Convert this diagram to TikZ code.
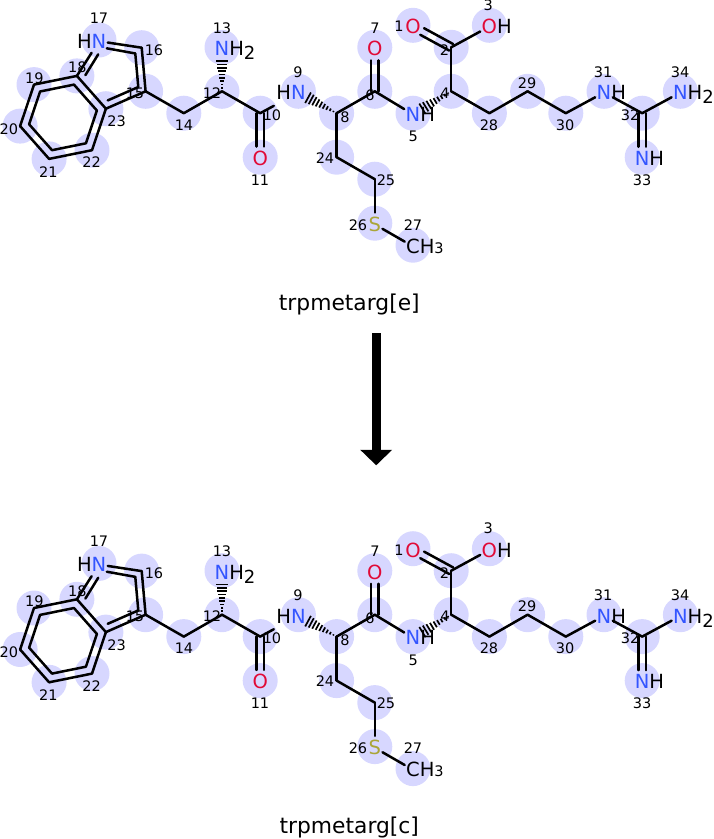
\documentclass[tikz,border=0pt]{standalone}
\usepackage{fontspec}
\setmainfont{DejaVu Sans}
\usetikzlibrary{calc,arrows.meta}
\definecolor{hlc}{RGB}{215,215,255}
\definecolor{nblue}{RGB}{51,85,255}
\definecolor{ored}{RGB}{225,10,55}
\definecolor{syel}{RGB}{170,165,55}
\tikzset{
  bond/.style={line width=2.5pt, line cap=round, line join=round, draw=black},
  hashline/.style={line width=1.7pt, draw=black},
  atomlbl/.style={rectangle, inner xsep=1.5pt, inner ysep=4.5pt, outer sep=0pt, font=\fontsize{19.5}{20}\selectfont, yshift=-1.2pt},
  natom/.style={atomlbl, text=nblue},
  oatom/.style={atomlbl, text=ored},
  satom/.style={atomlbl, text=syel},
  catomlbl/.style={atomlbl, text=black},
  hlbl/.style={inner sep=0pt, outer sep=0pt, font=\fontsize{19.5}{20}\selectfont, text=black},
  idx/.style={inner sep=0pt, font=\fontsize{14.5}{14.5}\selectfont, text=black},
  captionlbl/.style={inner sep=0pt, font=\fontsize{21.8}{22}\selectfont, anchor=base},
}
\newcommand\hsubtwo[1]{\raisebox{-4pt}{\fontsize{18}{18}\selectfont #1}}
% hashed wedge: #1 narrow end node, #2 wide end node, #3 stop distance from #2, #4 half width
\newcommand\hashwedge[4]{%
  \coordinate (hwe) at ($(#2)!#3!(#1)$);
  \foreach \i in {1,...,9}{%
    \coordinate (hwp) at ($(#1)!{\i/9}!(hwe)$);
    \draw[hashline] ($(hwp)!{\i/9*#4}!90:(#1)$) -- ($(hwp)!{\i/9*#4}!-90:(#1)$);
  }}
\newcommand\drawmolecule[2]{%
  \foreach \n/\x/\y in {1/413/25.3, 2/451.2/47.3, 3/489.4/25.3, 4/451.2/91.3,
     5/413/113.2, 6/374.8/91.3, 7/374.8/47.3, 8/336.6/113.2, 9/298.4/91.3,
     10/260.2/113.2, 11/260.2/157.2, 12/222/91.3, 13/222/47.3, 14/183.8/113.2,
     15/145.6/91.3, 16/141.7/47.7, 17/99/40, 18/76.9/75.9, 19/34.0/84.6,
     20/20.1/126.1, 21/49.1/158.9, 22/92.0/150.2, 23/105.9/108.7,
     24/336.6/157.2, 25/374.8/179.2, 26/374.8/223.2, 27/413/245.2,
     28/489.4/113.2, 29/527.6/91.3, 30/565.8/113.2, 31/604/91.3,
     32/642.2/113.2, 33/642.2/157.2, 34/680.4/91.3}
     {\coordinate (#1p\n) at (\x,\y);}
  \coordinate (#1bc) at (63,117.4);
  \coordinate (#1pc) at (113.8,72.7);
  % highlight circles
  \foreach \n in {1,...,34} {\fill[hlc] (#1p\n) circle[radius=17.5pt];}
  % carbon atoms
  \foreach \n in {2,4,6,8,10,12,14,15,16,18,19,20,21,22,23,24,25,28,29,30,32}
     {\coordinate (#1a\n) at (#1p\n);}
  % hetero atoms
  \node[oatom] (#1a1) at (#1p1) {O};
  \node[oatom] (#1a3) at (#1p3) {O};
  \node[hlbl, anchor=base west] (#1h3) at ([xshift=-1.5pt]#1a3.base east) {H};
  \node[natom] (#1a5) at (#1p5) {N};
  \node[hlbl, anchor=base west] (#1h5) at ([xshift=-1.5pt]#1a5.base east) {H};
  \node[oatom] (#1a7) at (#1p7) {O};
  \node[natom] (#1a9) at (#1p9) {N};
  \node[hlbl, anchor=base east] (#1h9) at ([xshift=1.5pt]#1a9.base west) {H};
  \node[oatom] (#1a11) at (#1p11) {O};
  \node[natom] (#1a13) at (#1p13) {N};
  \node[hlbl, anchor=base west] (#1h13) at ([xshift=-1.5pt]#1a13.base east) {H\hsubtwo{2}};
  \node[natom] (#1a17) at (#1p17) {N};
  \node[hlbl, anchor=base east] (#1h17) at ([xshift=1.5pt]#1a17.base west) {H};
  \node[satom] (#1a26) at (#1p26) {S};
  \node[catomlbl] (#1a27) at (#1p27) {C};
  \node[hlbl, anchor=base west] (#1h27) at ([xshift=-1.5pt]#1a27.base east) {H{\fontsize{14.5}{14.5}\selectfont 3}};
  \node[natom] (#1a31) at (#1p31) {N};
  \node[hlbl, anchor=base west] (#1h31) at ([xshift=-1.5pt]#1a31.base east) {H};
  \node[natom] (#1a33) at (#1p33) {N};
  \node[hlbl, anchor=base west] (#1h33) at ([xshift=-1.5pt]#1a33.base east) {H};
  \node[natom] (#1a34) at (#1p34) {N};
  \node[hlbl, anchor=base west] (#1h34) at ([xshift=-1.5pt]#1a34.base east) {H\hsubtwo{2}};
  % single bonds
  \draw[bond] (#1a12) -- (#1a14);
  \draw[bond] (#1a14) -- (#1a15);
  \draw[bond] (#1a12) -- (#1a10);
  \draw[bond, shorten >=18pt] (#1a10) -- (#1a9);
  \draw[bond] (#1a8) -- (#1a6);
  \draw[bond] (#1a6) -- (#1a5);
  \draw[bond] (#1a4) -- (#1a2);
  \draw[bond] (#1a2) -- (#1a3);
  \draw[bond] (#1a4) -- (#1a28);
  \draw[bond] (#1a28) -- (#1a29);
  \draw[bond] (#1a29) -- (#1a30);
  \draw[bond] (#1a30) -- (#1a31);
  \draw[bond] (#1a31) -- (#1a32);
  \draw[bond] (#1a32) -- (#1a34);
  \draw[bond] (#1a8) -- (#1a24);
  \draw[bond] (#1a24) -- (#1a25);
  \draw[bond] (#1a25) -- (#1a26);
  \draw[bond] (#1a26) -- (#1a27);
  % double bonds
  \foreach \s in {3.8pt,-3.8pt} {
    \draw[bond, transform canvas={xshift=\s}] (#1a10) -- (#1a11);
    \draw[bond, transform canvas={xshift=\s}] (#1a6) -- (#1a7);
    \draw[bond, transform canvas={xshift=\s}] (#1a32) -- (#1a33);
  }
  \draw[bond, transform canvas={xshift=1.9pt,yshift=3.29pt}] (#1a2) -- (#1a1);
  \draw[bond, transform canvas={xshift=-1.9pt,yshift=-3.29pt}] (#1a2) -- (#1a1);
  % rings (outer)
  \draw[bond] (#1a15) -- (#1a16);
  \draw[bond] (#1a16) -- (#1a17);
  \draw[bond] (#1a17) -- (#1a18);
  \draw[bond] (#1a18) -- (#1a23);
  \draw[bond] (#1a23) -- (#1a15);
  \draw[bond] (#1a18) -- (#1a19);
  \draw[bond] (#1a19) -- (#1a20);
  \draw[bond] (#1a20) -- (#1a21);
  \draw[bond] (#1a21) -- (#1a22);
  \draw[bond] (#1a22) -- (#1a23);
  % rings (inner)
  \draw[bond] ($(#1bc)!0.79!(#1a18)$) -- ($(#1bc)!0.79!(#1a19)$) -- ($(#1bc)!0.79!(#1a20)$)
     -- ($(#1bc)!0.79!(#1a21)$) -- ($(#1bc)!0.79!(#1a22)$) -- ($(#1bc)!0.79!(#1a23)$) -- cycle;
  \draw[bond, shorten >=8pt] ($(#1pc)!0.77!(#1a18)$) -- ($(#1pc)!0.77!(#1p17)$);
  \draw[bond, shorten <=4.5pt] ($(#1pc)!0.77!(#1p17)$) -- ($(#1pc)!0.77!(#1a16)$)
     -- ($(#1pc)!0.77!(#1a15)$) -- ($(#1pc)!0.77!(#1a23)$);
  % hashed wedges
  \hashwedge{#1a12}{#1a13}{12.5pt}{5.8pt}
  \hashwedge{#1a8}{#1a9}{11pt}{6pt}
  \hashwedge{#1a4}{#1a5}{11pt}{6pt}
  % atom indices
  \foreach \n/\x/\y in {1/399/26.7, 2/444.5/50, 3/488.3/5, 4/445/93.3,
     5/413.3/136.7, 6/370/95, 7/375/28, 8/345/117, 9/298/72, 10/272/115,
     11/260/180, 12/212/93, 13/222/28, 14/184/125, 15/135/93.3, 16/154/50,
     17/99/18, 18/77.3/67.7, 19/34.3/78.3, 20/8.8/129, 21/48.3/171.7,
     22/91.7/162.3, 23/116.7/121.7, 24/325/158, 25/386/180, 26/358/225,
     27/413/225, 28/489/125, 29/527/83, 30/565/125, 31/603/72, 32/630/115,
     33/642/180, 34/680/72}
     {\node[idx] (#1n\n) at (\x,\y) {\n};}
  % caption
  \node[captionlbl] (#1cap) at (349.3,310.5) {#2};
}
\begin{document}
\begin{tikzpicture}[x=1pt,y=-1pt]
  \useasboundingbox (0,0) rectangle (714,839);
  \drawmolecule{t}{trpmetarg[e]}
  \coordinate (arrS) at (376.2,333.3);
  \coordinate (arrE) at (376.2,465.3);
  \draw[line width=9pt, -{Triangle[length=15.5pt,width=31pt]}] (arrS) -- (arrE);
  \begin{scope}[shift={(0,523.4)}]
    \drawmolecule{b}{trpmetarg[c]}
  \end{scope}
\end{tikzpicture}
\end{document}
